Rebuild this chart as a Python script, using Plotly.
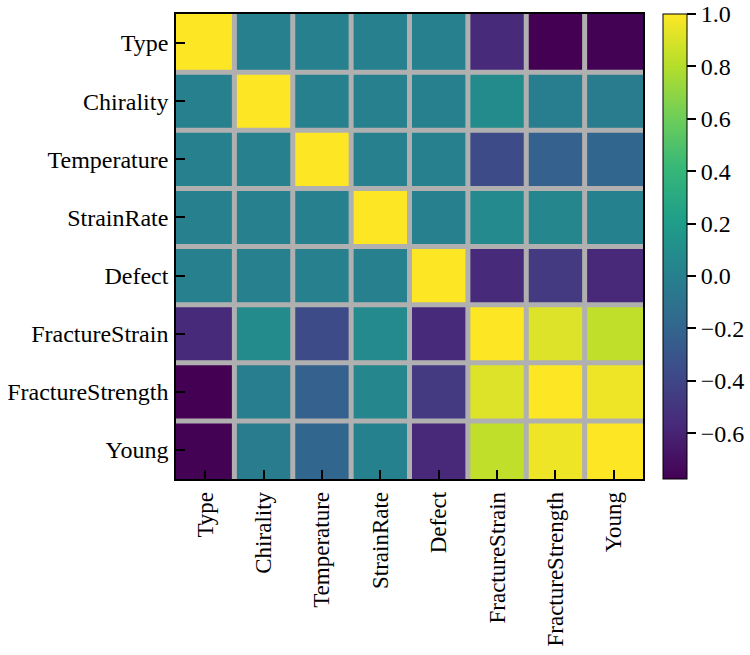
import plotly.graph_objects as go

# correlation matrix of the nanotube features
labels = ["Type", "Chirality", "Temperature", "StrainRate", "Defect",
          "FractureStrain", "FractureStrength", "Young"]

row_type = [1.00, 0.00, 0.00, 0.00, 0.00, -0.56, -0.775, -0.77]
row_chirality = [0.00, 1.00, 0.00, 0.00, 0.00, 0.08, -0.02, -0.04]
row_temperature = [0.00, 0.00, 1.00, 0.00, 0.00, -0.37, -0.23, -0.19]
row_strainrate = [0.00, 0.00, 0.00, 1.00, 0.00, 0.07, 0.05, 0.01]
row_defect = [0.00, 0.00, 0.00, 0.00, 1.00, -0.56, -0.47, -0.58]
row_fstrain = [-0.56, 0.08, -0.37, 0.07, -0.56, 1.00, 0.91, 0.83]
row_fstrength = [-0.775, -0.02, -0.23, 0.05, -0.47, 0.91, 1.00, 0.96]
row_young = [-0.77, -0.04, -0.19, 0.01, -0.58, 0.83, 0.96, 1.00]

cbar_ticks = [-0.6, -0.4, -0.2, 0.0, 0.2, 0.4, 0.6, 0.8, 1.0]

z = [row_type, row_chirality, row_temperature, row_strainrate,
     row_defect, row_fstrain, row_fstrength, row_young]
idx = list(range(len(labels)))

font = dict(family="Liberation Serif", size=24, color="black")

fig = go.Figure(go.Heatmap(
    z=z, x=idx, y=idx,
    colorscale="Viridis",
    colorbar=dict(
        x=1.043, xanchor="left", xpad=0,
        y=0.5, yanchor="middle", len=1, ypad=0,
        thickness=24,
        outlinecolor="black", outlinewidth=1,
        tickvals=cbar_ticks, tickformat=".1f",
        ticks="outside", ticklen=9, tickwidth=1.5, tickcolor="black",
        tickfont=font, ticklabeloverflow="allow",
    ),
))

# gray separators between cells
n = len(labels)
for k in range(n - 1):
    fig.add_shape(type="line", x0=k + 0.5, x1=k + 0.5, y0=-0.5, y1=n - 0.5,
                  line=dict(color="#b0b0b0", width=5))
    fig.add_shape(type="line", y0=k + 0.5, y1=k + 0.5, x0=-0.5, x1=n - 0.5,
                  line=dict(color="#b0b0b0", width=5))

axis_common = dict(
    tickmode="array", tickvals=idx, ticktext=labels,
    ticks="inside", ticklen=9, tickwidth=2, tickcolor="black",
    minor=dict(tick0=0.5, dtick=1, ticks="inside", ticklen=9, tickwidth=2,
               tickcolor="black"),
    showline=True, linecolor="black", linewidth=1.5, mirror=True,
    showgrid=False, zeroline=False, automargin=False,
    ticklabeloverflow="allow",
)

fig.update_xaxes(range=[-0.5, n - 0.5], tickangle=-90, ticklabelstandoff=2,
                 tickfont=dict(font, size=23), **axis_common)
fig.update_yaxes(range=[n - 0.5, -0.5], ticklabelstandoff=1,
                 tickfont=font, **axis_common)

fig.update_layout(
    width=750, height=655,
    margin=dict(l=176, r=107, t=14, b=176, autoexpand=False),
    plot_bgcolor="white", paper_bgcolor="white",
    font=font,
)

# drop the default page margin so the figure sits at the window corner
fig.write_html("out.html", config={"displayModeBar": False},
               post_script="document.body.style.margin='0';")
